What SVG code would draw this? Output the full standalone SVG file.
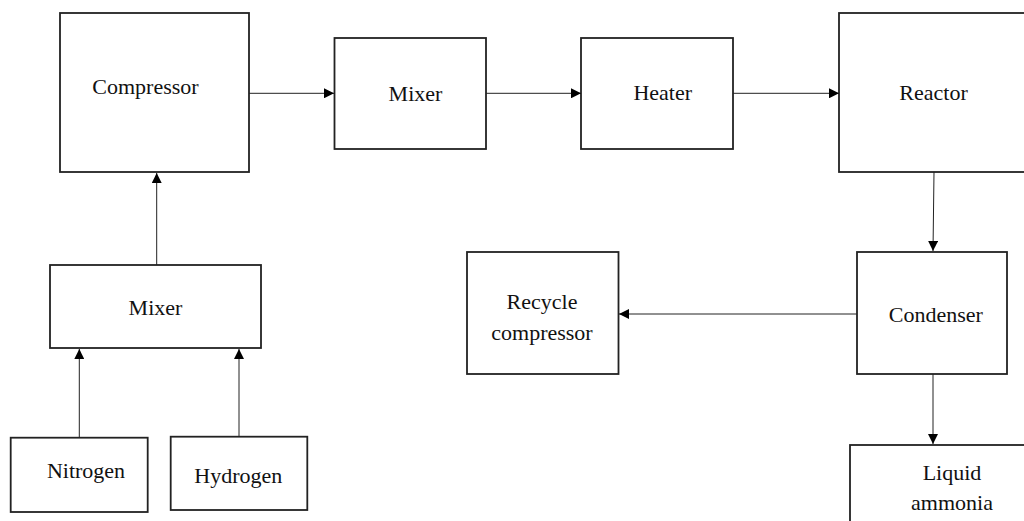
<svg xmlns="http://www.w3.org/2000/svg" width="1024" height="521" viewBox="0 0 1024 521">
<style>
.box{fill:#fff;stroke:#222;stroke-width:1.8}
.lbl{font-family:"Liberation Serif","Times New Roman",serif;font-size:22px;fill:#111;text-anchor:middle}
.con{stroke:#222;stroke-width:1;fill:none;marker-end:url(#ah)}
</style>
<defs>
<marker id="ah" markerUnits="userSpaceOnUse" markerWidth="12" markerHeight="10" refX="10" refY="5" orient="auto">
<path d="M0,0 L10,5 L0,10 Z" fill="#000"/>
</marker>
</defs>
<rect width="1024" height="521" fill="#fff"/>
<g id="compressor"><rect class="box" x="60" y="13" width="189" height="159"/><text class="lbl" x="145.5" y="94">Compressor</text></g>
<g id="mixer1"><rect class="box" x="334.5" y="38" width="151.5" height="111"/><text class="lbl" x="415.5" y="101">Mixer</text></g>
<g id="heater"><rect class="box" x="581" y="38" width="152" height="111"/><text class="lbl" x="662.7" y="100">Heater</text></g>
<g id="reactor"><rect class="box" x="839" y="13" width="200" height="159"/><text class="lbl" x="933.5" y="100">Reactor</text></g>
<g id="condenser"><rect class="box" x="857" y="252" width="150" height="122"/><text class="lbl" x="935.8" y="322">Condenser</text></g>
<g id="recycle"><rect class="box" x="467" y="252" width="151.5" height="122"/><text class="lbl" x="542" y="308.6">Recycle</text><text class="lbl" x="542" y="340">compressor</text></g>
<g id="ammonia"><rect class="box" x="850" y="445" width="200" height="100"/><text class="lbl" x="952" y="480">Liquid</text><text class="lbl" x="952" y="510">ammonia</text></g>
<g id="mixer2"><rect class="box" x="50" y="265" width="211" height="83"/><text class="lbl" x="155.5" y="315">Mixer</text></g>
<g id="nitrogen"><rect class="box" x="10.7" y="437.7" width="137" height="74.3"/><text class="lbl" x="86" y="478">Nitrogen</text></g>
<g id="hydrogen"><rect class="box" x="170.7" y="436.7" width="136.6" height="73.3"/><text class="lbl" x="238.3" y="483">Hydrogen</text></g>
<g id="connectors">
<line class="con" x1="249" y1="93.3" x2="334" y2="93.3"/>
<line class="con" x1="486" y1="93.3" x2="581" y2="93.3"/>
<line class="con" x1="733" y1="93.3" x2="839" y2="93.3"/>
<line class="con" x1="934" y1="172" x2="933" y2="251"/>
<line class="con" x1="857" y1="314" x2="619" y2="314"/>
<line class="con" x1="933" y1="374" x2="933" y2="444"/>
<line class="con" x1="156.7" y1="265" x2="156.7" y2="173"/>
<line class="con" x1="79.3" y1="437" x2="79.3" y2="349"/>
<line class="con" x1="239" y1="436" x2="239" y2="349"/>
</g>
</svg>
